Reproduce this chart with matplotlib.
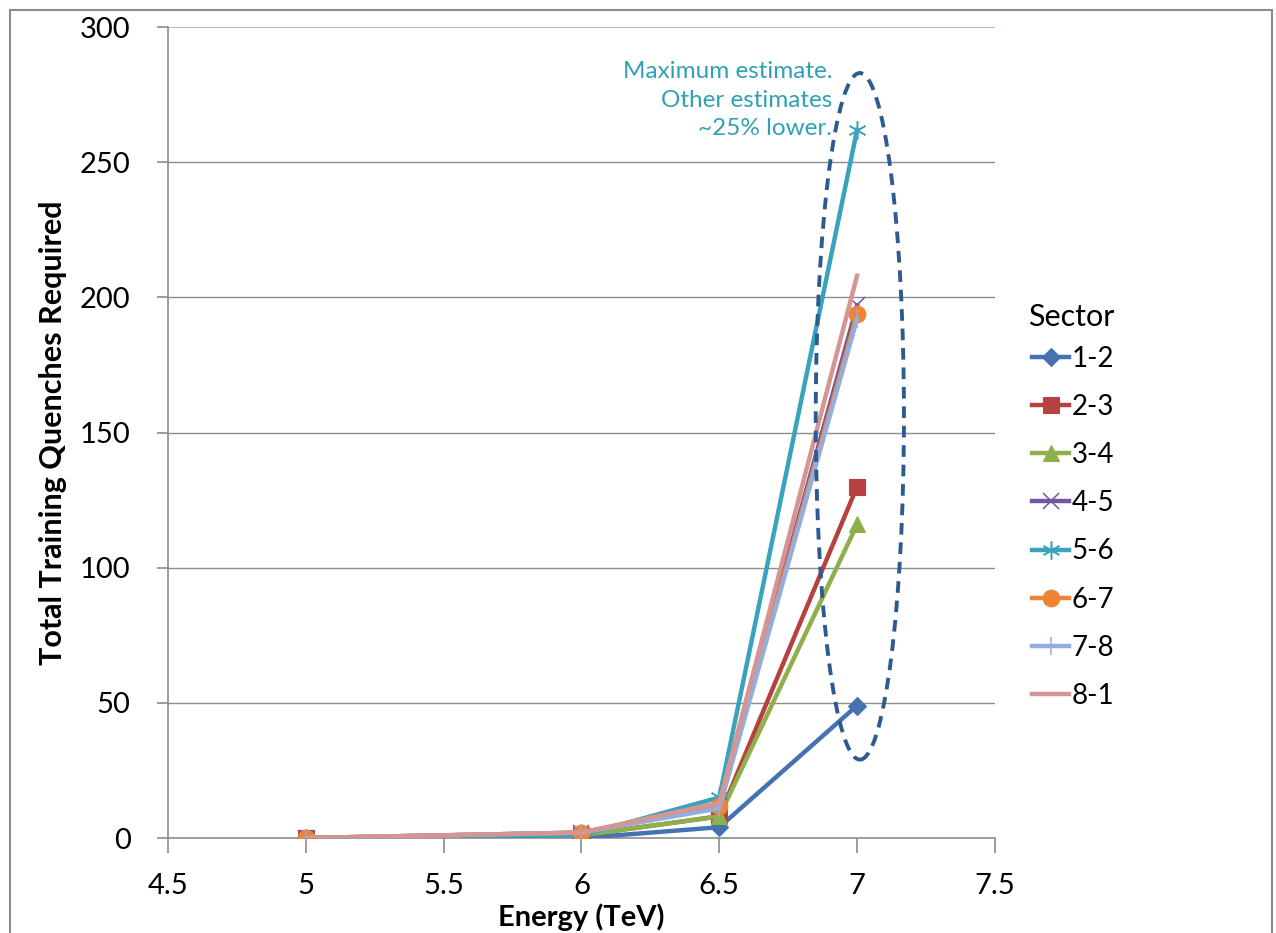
import matplotlib
matplotlib.use("Agg")
import matplotlib.pyplot as plt
from matplotlib.patches import Ellipse, Rectangle

plt.rcParams['font.family'] = ['Lato', 'DejaVu Sans']

energy = [5, 6, 6.5, 7]
sectors = ["1-2", "2-3", "3-4", "4-5", "5-6", "6-7", "7-8", "8-1"]
quenches = {
    "1-2": [0, 0, 4, 49],
    "2-3": [0, 1, 8, 130],
    "3-4": [0, 1, 8, 116],
    "4-5": [0, 2, 12, 197],
    "5-6": [0, 1, 15, 262],
    "6-7": [0, 2, 12, 194],
    "7-8": [0, 2, 11, 192],
    "8-1": [0, 2, 13, 208],
}
colors = ["#4572B0", "#B7413E", "#8DB04A", "#7157A0", "#39A2BE",
          "#EE8435", "#93AEDC", "#D69492"]
markers = ["D", "s", "^", "x", (6, 2, 0), "o", "|", None]
msizes = [9, 11, 11, 12, 13, 12, 13, 0]

x_ticks = [4.5, 5, 5.5, 6, 6.5, 7, 7.5]
y_ticks = [0, 50, 100, 150, 200, 250, 300]

fig = plt.figure(figsize=(12.76, 9.33), dpi=100)
ax = fig.add_axes([0.1317, 0.1018, 0.648, 0.8692])

for s, c, m, ms in zip(sectors, colors, markers, msizes):
    thin = m in ("x", "|") or isinstance(m, tuple)
    ax.plot(energy, quenches[s], color=c, lw=3.2, marker=m, markersize=ms,
            markeredgewidth=1.1 if thin else 0.8,
            markeredgecolor=c, markerfacecolor=c, label=s,
            solid_joinstyle="miter", zorder=3)

ax.set_xlim(4.5, 7.5)
ax.set_ylim(0, 300)
ax.set_xticks(x_ticks)
ax.set_xticklabels([f"{t:g}" for t in x_ticks])
ax.set_yticks(y_ticks)

for y in y_ticks[1:-1]:
    ax.axhline(y, color="#8C8C8C", lw=1.0, zorder=1)
ax.axhline(300, color="#95B3D7", lw=1.2, zorder=1)

for side in ("top", "right"):
    ax.spines[side].set_visible(False)
for side in ("left", "bottom"):
    ax.spines[side].set_color("#8C8C8C")
    ax.spines[side].set_linewidth(1.2)

ax.tick_params(axis="x", direction="out", length=11, width=1.2, color="#8C8C8C",
               labelsize=21, pad=14)
ax.tick_params(axis="y", direction="out", length=8, width=1.2, color="#8C8C8C",
               labelsize=21, pad=19)

ax.set_xlabel("Energy (TeV)", fontsize=21, fontweight="bold", labelpad=3)
ax.set_ylabel("Total Training Quenches Required", fontsize=22, fontweight="bold",
              labelpad=9)

ellipse = Ellipse((7.01, 156), width=0.32, height=254, fill=False,
                  edgecolor="#2F5A8F", lw=2.8, linestyle=(0, (3, 2)), zorder=4)
ax.add_patch(ellipse)

ax.text(6.91, 273, "Maximum estimate.\nOther estimates\n~25% lower.",
        ha="right", va="center", multialignment="right", fontsize=17.5,
        color="#31A0B5", linespacing=1.45)

leg = ax.legend(loc="upper left", bbox_to_anchor=(1.032, 0.621), frameon=False,
                fontsize=20, handlelength=1.3, handletextpad=0.12,
                labelspacing=0.8, borderaxespad=0)
fig.text(1028 / 1276, 1 - 317 / 933, "Sector", fontsize=22,
         ha="left", va="center")

fig.add_artist(Rectangle((10 / 1276, -0.01), 1262 / 1276, 0.995 - 5 / 933 + 0.01,
                         transform=fig.transFigure, fill=False,
                         edgecolor="#8C8C8C", lw=1.5))

fig.savefig("out.png", dpi=100)
